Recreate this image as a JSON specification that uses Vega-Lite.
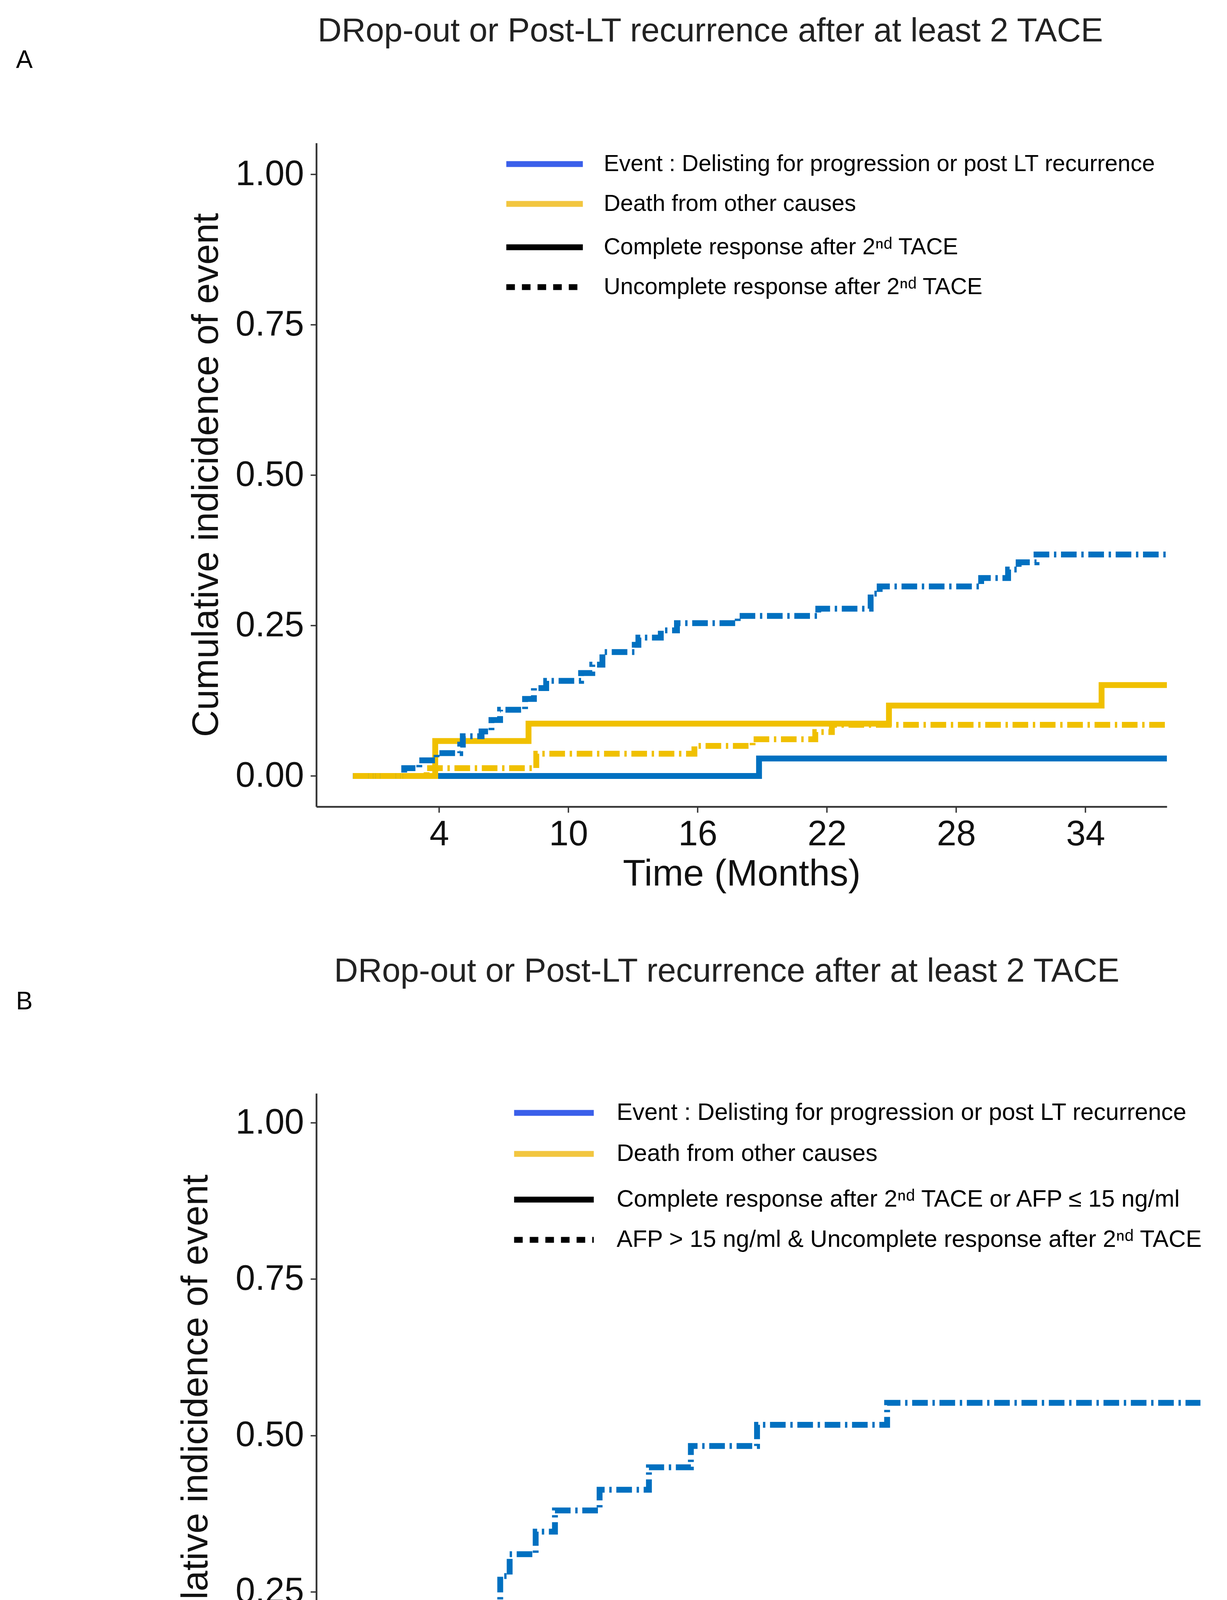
{
  "$schema": "https://vega.github.io/schema/vega-lite/v6.json",
  "background": "white",
  "padding": {"left": 41, "top": 38, "right": 10, "bottom": 10},
  "config": {
    "view": {"stroke": null},
    "font": "Liberation Sans",
    "axis": {
      "grid": false,
      "domainColor": "#333333",
      "domainWidth": 4.5,
      "tickColor": "#333333",
      "tickWidth": 3.5,
      "tickSize": 15,
      "labelFontSize": 90,
      "labelColor": "#111111",
      "titleFontSize": 95,
      "titleFontWeight": "normal",
      "titleColor": "#111111"
    },
    "axisX": {"labelPadding": 12, "titlePadding": 10},
    "axisY": {"labelPadding": 17},
    "legend": {
      "title": null,
      "orient": "none",
      "symbolStrokeWidth": 15,
      "symbolOpacity": 1,
      "labelColor": "#000000",
      "labelLimit": 3000
    },
    "title": {"fontWeight": "normal", "color": "#222222"}
  },
  "resolve": {"scale": {"color": "independent", "strokeDash": "independent"}},
  "spacing": 160,
  "vconcat": [
    {
      "title": {"text": "A", "anchor": "start", "frame": "group", "fontSize": 64, "dx": -769, "dy": 149, "offset": 0, "color": "#000000"},
      "resolve": {"scale": {"color": "independent", "strokeDash": "independent"}},
      "vconcat": [
        {
          "width": 2178,
          "height": 1699,
          "title": {"text": "DRop-out or Post-LT recurrence after at least 2 TACE", "fontSize": 85, "anchor": "middle", "dx": -80, "offset": 175, "baseline": "alphabetic"},
          "data": {"values": [
            {"t": 0, "cif": 0, "cause": "Event : Delisting for progression or post LT recurrence", "resp": "Complete response after 2ⁿᵈ TACE"},
            {"t": 18.85, "cif": 0.029, "cause": "Event : Delisting for progression or post LT recurrence", "resp": "Complete response after 2ⁿᵈ TACE"},
            {"t": 37.8, "cif": 0.029, "cause": "Event : Delisting for progression or post LT recurrence", "resp": "Complete response after 2ⁿᵈ TACE"},
            {"t": 0, "cif": 0, "cause": "Death from other causes", "resp": "Complete response after 2ⁿᵈ TACE"},
            {"t": 3.82, "cif": 0.058, "cause": "Death from other causes", "resp": "Complete response after 2ⁿᵈ TACE"},
            {"t": 8.15, "cif": 0.087, "cause": "Death from other causes", "resp": "Complete response after 2ⁿᵈ TACE"},
            {"t": 24.88, "cif": 0.117, "cause": "Death from other causes", "resp": "Complete response after 2ⁿᵈ TACE"},
            {"t": 34.75, "cif": 0.151, "cause": "Death from other causes", "resp": "Complete response after 2ⁿᵈ TACE"},
            {"t": 37.8, "cif": 0.151, "cause": "Death from other causes", "resp": "Complete response after 2ⁿᵈ TACE"},
            {"t": 0, "cif": 0, "cause": "Event : Delisting for progression or post LT recurrence", "resp": "Uncomplete response after 2ⁿᵈ TACE"},
            {"t": 2.38, "cif": 0.013, "cause": "Event : Delisting for progression or post LT recurrence", "resp": "Uncomplete response after 2ⁿᵈ TACE"},
            {"t": 3.08, "cif": 0.026, "cause": "Event : Delisting for progression or post LT recurrence", "resp": "Uncomplete response after 2ⁿᵈ TACE"},
            {"t": 3.88, "cif": 0.038, "cause": "Event : Delisting for progression or post LT recurrence", "resp": "Uncomplete response after 2ⁿᵈ TACE"},
            {"t": 4.98, "cif": 0.052, "cause": "Event : Delisting for progression or post LT recurrence", "resp": "Uncomplete response after 2ⁿᵈ TACE"},
            {"t": 5.1, "cif": 0.066, "cause": "Event : Delisting for progression or post LT recurrence", "resp": "Uncomplete response after 2ⁿᵈ TACE"},
            {"t": 5.97, "cif": 0.074, "cause": "Event : Delisting for progression or post LT recurrence", "resp": "Uncomplete response after 2ⁿᵈ TACE"},
            {"t": 6.43, "cif": 0.093, "cause": "Event : Delisting for progression or post LT recurrence", "resp": "Uncomplete response after 2ⁿᵈ TACE"},
            {"t": 6.83, "cif": 0.11, "cause": "Event : Delisting for progression or post LT recurrence", "resp": "Uncomplete response after 2ⁿᵈ TACE"},
            {"t": 7.99, "cif": 0.128, "cause": "Event : Delisting for progression or post LT recurrence", "resp": "Uncomplete response after 2ⁿᵈ TACE"},
            {"t": 8.4, "cif": 0.146, "cause": "Event : Delisting for progression or post LT recurrence", "resp": "Uncomplete response after 2ⁿᵈ TACE"},
            {"t": 8.97, "cif": 0.158, "cause": "Event : Delisting for progression or post LT recurrence", "resp": "Uncomplete response after 2ⁿᵈ TACE"},
            {"t": 10.59, "cif": 0.171, "cause": "Event : Delisting for progression or post LT recurrence", "resp": "Uncomplete response after 2ⁿᵈ TACE"},
            {"t": 11.11, "cif": 0.185, "cause": "Event : Delisting for progression or post LT recurrence", "resp": "Uncomplete response after 2ⁿᵈ TACE"},
            {"t": 11.58, "cif": 0.206, "cause": "Event : Delisting for progression or post LT recurrence", "resp": "Uncomplete response after 2ⁿᵈ TACE"},
            {"t": 13.08, "cif": 0.218, "cause": "Event : Delisting for progression or post LT recurrence", "resp": "Uncomplete response after 2ⁿᵈ TACE"},
            {"t": 13.25, "cif": 0.23, "cause": "Event : Delisting for progression or post LT recurrence", "resp": "Uncomplete response after 2ⁿᵈ TACE"},
            {"t": 14.29, "cif": 0.242, "cause": "Event : Delisting for progression or post LT recurrence", "resp": "Uncomplete response after 2ⁿᵈ TACE"},
            {"t": 15.04, "cif": 0.254, "cause": "Event : Delisting for progression or post LT recurrence", "resp": "Uncomplete response after 2ⁿᵈ TACE"},
            {"t": 17.86, "cif": 0.266, "cause": "Event : Delisting for progression or post LT recurrence", "resp": "Uncomplete response after 2ⁿᵈ TACE"},
            {"t": 21.6, "cif": 0.278, "cause": "Event : Delisting for progression or post LT recurrence", "resp": "Uncomplete response after 2ⁿᵈ TACE"},
            {"t": 24.03, "cif": 0.303, "cause": "Event : Delisting for progression or post LT recurrence", "resp": "Uncomplete response after 2ⁿᵈ TACE"},
            {"t": 24.45, "cif": 0.315, "cause": "Event : Delisting for progression or post LT recurrence", "resp": "Uncomplete response after 2ⁿᵈ TACE"},
            {"t": 29.16, "cif": 0.329, "cause": "Event : Delisting for progression or post LT recurrence", "resp": "Uncomplete response after 2ⁿᵈ TACE"},
            {"t": 30.41, "cif": 0.343, "cause": "Event : Delisting for progression or post LT recurrence", "resp": "Uncomplete response after 2ⁿᵈ TACE"},
            {"t": 30.9, "cif": 0.355, "cause": "Event : Delisting for progression or post LT recurrence", "resp": "Uncomplete response after 2ⁿᵈ TACE"},
            {"t": 31.73, "cif": 0.368, "cause": "Event : Delisting for progression or post LT recurrence", "resp": "Uncomplete response after 2ⁿᵈ TACE"},
            {"t": 37.8, "cif": 0.368, "cause": "Event : Delisting for progression or post LT recurrence", "resp": "Uncomplete response after 2ⁿᵈ TACE"},
            {"t": 0, "cif": 0, "cause": "Death from other causes", "resp": "Uncomplete response after 2ⁿᵈ TACE"},
            {"t": 3.42, "cif": 0.013, "cause": "Death from other causes", "resp": "Uncomplete response after 2ⁿᵈ TACE"},
            {"t": 8.51, "cif": 0.037, "cause": "Death from other causes", "resp": "Uncomplete response after 2ⁿᵈ TACE"},
            {"t": 15.85, "cif": 0.05, "cause": "Death from other causes", "resp": "Uncomplete response after 2ⁿᵈ TACE"},
            {"t": 18.55, "cif": 0.061, "cause": "Death from other causes", "resp": "Uncomplete response after 2ⁿᵈ TACE"},
            {"t": 21.46, "cif": 0.073, "cause": "Death from other causes", "resp": "Uncomplete response after 2ⁿᵈ TACE"},
            {"t": 22.23, "cif": 0.085, "cause": "Death from other causes", "resp": "Uncomplete response after 2ⁿᵈ TACE"},
            {"t": 37.8, "cif": 0.085, "cause": "Death from other causes", "resp": "Uncomplete response after 2ⁿᵈ TACE"}
          ]},
          "encoding": {
            "x": {"field": "t", "type": "quantitative", "scale": {"domain": [-1.7, 37.78], "nice": false, "zero": false}, "axis": {"values": [4, 10, 16, 22, 28, 34], "title": "Time (Months)"}},
            "y": {"field": "cif", "type": "quantitative", "scale": {"domain": [-0.051, 1.052], "nice": false, "zero": false}, "axis": {"values": [0, 0.25, 0.5, 0.75, 1], "format": ".2f", "title": "Cumulative indicidence of event", "titlePadding": 33}}
          },
          "layer": [
            {
              "mark": {"type": "line", "interpolate": "step-after", "strokeWidth": 15, "strokeCap": "butt", "clip": true},
              "encoding": {
                "color": {"field": "cause", "type": "nominal", "legend": null,
                  "scale": {"domain": ["Event : Delisting for progression or post LT recurrence", "Death from other causes"], "range": ["#0070C0", "#F0C000"]}},
                "strokeDash": {"field": "resp", "type": "nominal", "legend": null,
                  "scale": {"domain": ["Complete response after 2ⁿᵈ TACE", "Uncomplete response after 2ⁿᵈ TACE"], "range": [[1, 0], [40, 12, 6, 12]]}}
              }
            },
            {
              "mark": {"type": "line", "interpolate": "step-after", "strokeWidth": 15, "opacity": 0, "clip": true},
              "encoding": {
                "color": {"field": "cause", "type": "nominal",
                  "scale": {"domain": ["Event : Delisting for progression or post LT recurrence", "Death from other causes"], "range": ["#3A5FEA", "#F2C640"]},
                  "legend": {"legendX": 479, "legendY": 22, "symbolType": "M-1,0H7", "symbolSize": 2401, "labelFontSize": 59, "labelOffset": 193, "rowPadding": 40}},
                "strokeDash": {"field": "resp", "type": "nominal",
                  "scale": {"domain": ["Complete response after 2ⁿᵈ TACE", "Uncomplete response after 2ⁿᵈ TACE"], "range": [[1, 0], [22, 18]]},
                  "legend": {"legendX": 479, "legendY": 235, "symbolType": "M-1,0H7", "symbolSize": 2401, "symbolStrokeColor": "#000000", "labelFontSize": 59, "labelOffset": 193, "rowPadding": 40}}
              }
            }
          ],
          "resolve": {"scale": {"color": "independent", "strokeDash": "independent"}}
        }
      ]
    },
    {
      "title": {"text": "B", "anchor": "start", "frame": "group", "fontSize": 64, "dx": -769, "dy": 152, "offset": 0, "color": "#000000"},
      "resolve": {"scale": {"color": "independent", "strokeDash": "independent"}},
      "vconcat": [
        {
          "width": 2264,
          "height": 1756,
          "title": {"text": "DRop-out or Post-LT recurrence after at least 2 TACE", "fontSize": 85, "anchor": "middle", "dx": -81, "offset": 201, "baseline": "alphabetic"},
          "data": {"values": [
            {"t": 0, "cif": 0, "cause": "Event : Delisting for progression or post LT recurrence", "resp": "Complete response after 2ⁿᵈ TACE or AFP ≤ 15 ng/ml"},
            {"t": 7.98, "cif": 0.012, "cause": "Event : Delisting for progression or post LT recurrence", "resp": "Complete response after 2ⁿᵈ TACE or AFP ≤ 15 ng/ml"},
            {"t": 8.4, "cif": 0.023, "cause": "Event : Delisting for progression or post LT recurrence", "resp": "Complete response after 2ⁿᵈ TACE or AFP ≤ 15 ng/ml"},
            {"t": 10.66, "cif": 0.035, "cause": "Event : Delisting for progression or post LT recurrence", "resp": "Complete response after 2ⁿᵈ TACE or AFP ≤ 15 ng/ml"},
            {"t": 11.45, "cif": 0.057, "cause": "Event : Delisting for progression or post LT recurrence", "resp": "Complete response after 2ⁿᵈ TACE or AFP ≤ 15 ng/ml"},
            {"t": 13.3, "cif": 0.069, "cause": "Event : Delisting for progression or post LT recurrence", "resp": "Complete response after 2ⁿᵈ TACE or AFP ≤ 15 ng/ml"},
            {"t": 14.1, "cif": 0.081, "cause": "Event : Delisting for progression or post LT recurrence", "resp": "Complete response after 2ⁿᵈ TACE or AFP ≤ 15 ng/ml"},
            {"t": 18.79, "cif": 0.092, "cause": "Event : Delisting for progression or post LT recurrence", "resp": "Complete response after 2ⁿᵈ TACE or AFP ≤ 15 ng/ml"},
            {"t": 21.55, "cif": 0.103, "cause": "Event : Delisting for progression or post LT recurrence", "resp": "Complete response after 2ⁿᵈ TACE or AFP ≤ 15 ng/ml"},
            {"t": 23.99, "cif": 0.116, "cause": "Event : Delisting for progression or post LT recurrence", "resp": "Complete response after 2ⁿᵈ TACE or AFP ≤ 15 ng/ml"},
            {"t": 24.3, "cif": 0.127, "cause": "Event : Delisting for progression or post LT recurrence", "resp": "Complete response after 2ⁿᵈ TACE or AFP ≤ 15 ng/ml"},
            {"t": 29.18, "cif": 0.139, "cause": "Event : Delisting for progression or post LT recurrence", "resp": "Complete response after 2ⁿᵈ TACE or AFP ≤ 15 ng/ml"},
            {"t": 30.28, "cif": 0.151, "cause": "Event : Delisting for progression or post LT recurrence", "resp": "Complete response after 2ⁿᵈ TACE or AFP ≤ 15 ng/ml"},
            {"t": 30.83, "cif": 0.164, "cause": "Event : Delisting for progression or post LT recurrence", "resp": "Complete response after 2ⁿᵈ TACE or AFP ≤ 15 ng/ml"},
            {"t": 31.74, "cif": 0.176, "cause": "Event : Delisting for progression or post LT recurrence", "resp": "Complete response after 2ⁿᵈ TACE or AFP ≤ 15 ng/ml"},
            {"t": 37.8, "cif": 0.176, "cause": "Event : Delisting for progression or post LT recurrence", "resp": "Complete response after 2ⁿᵈ TACE or AFP ≤ 15 ng/ml"},
            {"t": 0, "cif": 0, "cause": "Death from other causes", "resp": "Complete response after 2ⁿᵈ TACE or AFP ≤ 15 ng/ml"},
            {"t": 3.83, "cif": 0.022, "cause": "Death from other causes", "resp": "Complete response after 2ⁿᵈ TACE or AFP ≤ 15 ng/ml"},
            {"t": 8.16, "cif": 0.034, "cause": "Death from other causes", "resp": "Complete response after 2ⁿᵈ TACE or AFP ≤ 15 ng/ml"},
            {"t": 8.77, "cif": 0.046, "cause": "Death from other causes", "resp": "Complete response after 2ⁿᵈ TACE or AFP ≤ 15 ng/ml"},
            {"t": 18.42, "cif": 0.057, "cause": "Death from other causes", "resp": "Complete response after 2ⁿᵈ TACE or AFP ≤ 15 ng/ml"},
            {"t": 21.36, "cif": 0.068, "cause": "Death from other causes", "resp": "Complete response after 2ⁿᵈ TACE or AFP ≤ 15 ng/ml"},
            {"t": 21.85, "cif": 0.081, "cause": "Death from other causes", "resp": "Complete response after 2ⁿᵈ TACE or AFP ≤ 15 ng/ml"},
            {"t": 24.84, "cif": 0.0925, "cause": "Death from other causes", "resp": "Complete response after 2ⁿᵈ TACE or AFP ≤ 15 ng/ml"},
            {"t": 34.6, "cif": 0.105, "cause": "Death from other causes", "resp": "Complete response after 2ⁿᵈ TACE or AFP ≤ 15 ng/ml"},
            {"t": 37.8, "cif": 0.105, "cause": "Death from other causes", "resp": "Complete response after 2ⁿᵈ TACE or AFP ≤ 15 ng/ml"},
            {"t": 0, "cif": 0, "cause": "Event : Delisting for progression or post LT recurrence", "resp": "AFP > 15 ng/ml & Uncomplete response after 2ⁿᵈ TACE"},
            {"t": 2.41, "cif": 0.034, "cause": "Event : Delisting for progression or post LT recurrence", "resp": "AFP > 15 ng/ml & Uncomplete response after 2ⁿᵈ TACE"},
            {"t": 3.02, "cif": 0.07, "cause": "Event : Delisting for progression or post LT recurrence", "resp": "AFP > 15 ng/ml & Uncomplete response after 2ⁿᵈ TACE"},
            {"t": 3.88, "cif": 0.105, "cause": "Event : Delisting for progression or post LT recurrence", "resp": "AFP > 15 ng/ml & Uncomplete response after 2ⁿᵈ TACE"},
            {"t": 4.85, "cif": 0.137, "cause": "Event : Delisting for progression or post LT recurrence", "resp": "AFP > 15 ng/ml & Uncomplete response after 2ⁿᵈ TACE"},
            {"t": 5.1, "cif": 0.174, "cause": "Event : Delisting for progression or post LT recurrence", "resp": "AFP > 15 ng/ml & Uncomplete response after 2ⁿᵈ TACE"},
            {"t": 6.01, "cif": 0.206, "cause": "Event : Delisting for progression or post LT recurrence", "resp": "AFP > 15 ng/ml & Uncomplete response after 2ⁿᵈ TACE"},
            {"t": 6.47, "cif": 0.275, "cause": "Event : Delisting for progression or post LT recurrence", "resp": "AFP > 15 ng/ml & Uncomplete response after 2ⁿᵈ TACE"},
            {"t": 6.89, "cif": 0.31, "cause": "Event : Delisting for progression or post LT recurrence", "resp": "AFP > 15 ng/ml & Uncomplete response after 2ⁿᵈ TACE"},
            {"t": 8.05, "cif": 0.346, "cause": "Event : Delisting for progression or post LT recurrence", "resp": "AFP > 15 ng/ml & Uncomplete response after 2ⁿᵈ TACE"},
            {"t": 8.91, "cif": 0.38, "cause": "Event : Delisting for progression or post LT recurrence", "resp": "AFP > 15 ng/ml & Uncomplete response after 2ⁿᵈ TACE"},
            {"t": 10.9, "cif": 0.413, "cause": "Event : Delisting for progression or post LT recurrence", "resp": "AFP > 15 ng/ml & Uncomplete response after 2ⁿᵈ TACE"},
            {"t": 13.1, "cif": 0.449, "cause": "Event : Delisting for progression or post LT recurrence", "resp": "AFP > 15 ng/ml & Uncomplete response after 2ⁿᵈ TACE"},
            {"t": 14.97, "cif": 0.483, "cause": "Event : Delisting for progression or post LT recurrence", "resp": "AFP > 15 ng/ml & Uncomplete response after 2ⁿᵈ TACE"},
            {"t": 17.92, "cif": 0.517, "cause": "Event : Delisting for progression or post LT recurrence", "resp": "AFP > 15 ng/ml & Uncomplete response after 2ⁿᵈ TACE"},
            {"t": 23.72, "cif": 0.552, "cause": "Event : Delisting for progression or post LT recurrence", "resp": "AFP > 15 ng/ml & Uncomplete response after 2ⁿᵈ TACE"},
            {"t": 37.8, "cif": 0.552, "cause": "Event : Delisting for progression or post LT recurrence", "resp": "AFP > 15 ng/ml & Uncomplete response after 2ⁿᵈ TACE"},
            {"t": 0, "cif": 0, "cause": "Death from other causes", "resp": "AFP > 15 ng/ml & Uncomplete response after 2ⁿᵈ TACE"},
            {"t": 3.26, "cif": 0.034, "cause": "Death from other causes", "resp": "AFP > 15 ng/ml & Uncomplete response after 2ⁿᵈ TACE"},
            {"t": 8.46, "cif": 0.069, "cause": "Death from other causes", "resp": "AFP > 15 ng/ml & Uncomplete response after 2ⁿᵈ TACE"},
            {"t": 15.85, "cif": 0.104, "cause": "Death from other causes", "resp": "AFP > 15 ng/ml & Uncomplete response after 2ⁿᵈ TACE"},
            {"t": 37.8, "cif": 0.104, "cause": "Death from other causes", "resp": "AFP > 15 ng/ml & Uncomplete response after 2ⁿᵈ TACE"}
          ]},
          "encoding": {
            "x": {"field": "t", "type": "quantitative", "scale": {"domain": [-1.73, 37.69], "nice": false, "zero": false}, "axis": {"values": [4, 10, 16, 22, 28, 34], "title": "Time (Months)"}},
            "y": {"field": "cif", "type": "quantitative", "scale": {"domain": [-0.05, 1.047], "nice": false, "zero": false}, "axis": {"values": [0, 0.25, 0.5, 0.75, 1], "format": ".2f", "title": "Cumulative indicidence of event", "titlePadding": 60}}
          },
          "layer": [
            {
              "mark": {"type": "line", "interpolate": "step-after", "strokeWidth": 15, "strokeCap": "butt", "clip": true},
              "encoding": {
                "color": {"field": "cause", "type": "nominal", "legend": null,
                  "scale": {"domain": ["Event : Delisting for progression or post LT recurrence", "Death from other causes"], "range": ["#0070C0", "#F0C000"]}},
                "strokeDash": {"field": "resp", "type": "nominal", "legend": null,
                  "scale": {"domain": ["Complete response after 2ⁿᵈ TACE or AFP ≤ 15 ng/ml", "AFP > 15 ng/ml & Uncomplete response after 2ⁿᵈ TACE"], "range": [[1, 0], [40, 12, 6, 12]]}}
              }
            },
            {
              "mark": {"type": "line", "interpolate": "step-after", "strokeWidth": 15, "opacity": 0, "clip": true},
              "encoding": {
                "color": {"field": "cause", "type": "nominal",
                  "scale": {"domain": ["Event : Delisting for progression or post LT recurrence", "Death from other causes"], "range": ["#3A5FEA", "#F2C640"]},
                  "legend": {"legendX": 499, "legendY": 17, "symbolType": "M-1,0H7", "symbolSize": 2601, "labelFontSize": 61, "labelOffset": 204, "rowPadding": 42}},
                "strokeDash": {"field": "resp", "type": "nominal",
                  "scale": {"domain": ["Complete response after 2ⁿᵈ TACE or AFP ≤ 15 ng/ml", "AFP > 15 ng/ml & Uncomplete response after 2ⁿᵈ TACE"], "range": [[1, 0], [22, 18]]},
                  "legend": {"legendX": 499, "legendY": 239, "symbolType": "M-1,0H7", "symbolSize": 2601, "symbolStrokeColor": "#000000", "labelFontSize": 61, "labelOffset": 204, "rowPadding": 40}}
              }
            }
          ],
          "resolve": {"scale": {"color": "independent", "strokeDash": "independent"}}
        }
      ]
    }
  ]
}
